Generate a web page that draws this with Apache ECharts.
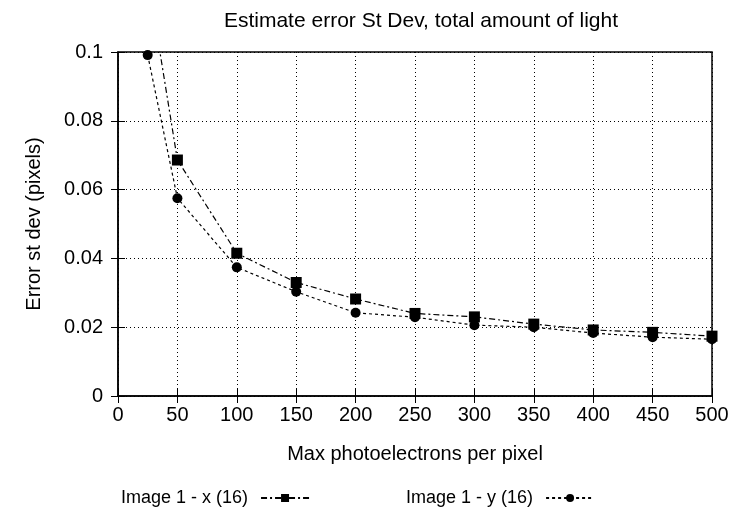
<!DOCTYPE html>
<html>
<head>
<meta charset="utf-8">
<script src="https://cdn.jsdelivr.net/npm/echarts@6/dist/echarts.min.js"></script>
<style>
  html, body { margin: 0; padding: 0; background: #fff; }
  #main { width: 738px; height: 507px; }
</style>
</head>
<body>
<div id="main"></div>
<script>
// 数据：横轴为每像素最大光电子数
const photons = [25, 50, 100, 150, 200, 250, 300, 350, 400, 450, 500];
const errX = [0.122, 0.0686, 0.0415, 0.0330, 0.0282, 0.0240, 0.0230, 0.0209, 0.0192, 0.0185, 0.0174];
const errY = [0.0991, 0.0575, 0.0374, 0.0303, 0.0242, 0.0229, 0.0206, 0.0200, 0.0183, 0.0171, 0.0165];
const seriesNames = ['Image 1 - x (16)', 'Image 1 - y (16)'];

const font = 'Liberation Sans, Arial, Helvetica, sans-serif';
const pairs = vals => photons.map((p, i) => [p, vals[i]]);

const chart = echarts.init(document.getElementById('main'));

// 上、右两条轴只画刻度（镜像）
const mirrorAxis = {
  axisLine: { show: false },
  axisLabel: { show: false },
  splitLine: { show: false },
  axisTick: { show: true, inside: true, length: 7, lineStyle: { color: '#000' } }
};

chart.setOption({
  animation: false,
  title: {
    text: 'Estimate error St Dev, total amount of light',
    left: 416,
    textAlign: 'center',
    top: 6,
    textStyle: { fontFamily: font, fontSize: 21, fontWeight: 'normal', color: '#000' }
  },
  legend: {
    top: 484,
    left: 116,
    align: 'right',
    itemWidth: 48,
    itemHeight: 10,
    itemGap: 96,
    textStyle: { fontFamily: font, fontSize: 18, color: '#000', padding: [0, 8, 0, 0] },
    data: seriesNames
  },
  grid: {
    left: 118, right: 26, top: 52, bottom: 111,
    show: true, borderColor: '#000', borderWidth: 1.5, backgroundColor: 'transparent'
  },
  xAxis: [{
    type: 'value',
    min: 0, max: 500, interval: 50,
    name: 'Max photoelectrons per pixel',
    nameLocation: 'middle',
    nameGap: 48,
    nameTextStyle: { fontFamily: font, fontSize: 20, color: '#000' },
    axisLine: { show: true, lineStyle: { color: '#000', width: 1.5 } },
    axisTick: { show: true, inside: true, length: 7, lineStyle: { color: '#000' } },
    axisLabel: { fontFamily: font, fontSize: 20, color: '#000', margin: 9 },
    splitLine: { show: true, lineStyle: { color: '#000', type: [1, 3], width: 1 } }
  }, Object.assign({ type: 'value', position: 'top', min: 0, max: 500, interval: 50 }, mirrorAxis)],
  yAxis: [{
    type: 'value',
    min: 0, max: 0.1, interval: 0.02,
    name: 'Error st dev (pixels)',
    nameLocation: 'middle',
    nameGap: 74,
    nameTextStyle: { fontFamily: font, fontSize: 20, color: '#000' },
    axisLine: { show: true, lineStyle: { color: '#000', width: 1.5 } },
    axisTick: { show: true, inside: true, length: 7, lineStyle: { color: '#000' } },
    axisLabel: { fontFamily: font, fontSize: 20, color: '#000', margin: 15 },
    splitLine: { show: true, lineStyle: { color: '#000', type: [1, 3], width: 1 } }
  }, Object.assign({ type: 'value', position: 'right', min: 0, max: 0.1, interval: 0.02 }, mirrorAxis)],
  series: [{
    name: seriesNames[0],
    type: 'line',
    data: pairs(errX),
    symbol: 'rect',
    symbolSize: 11,
    clip: true,
    itemStyle: { color: '#000' },
    lineStyle: { color: '#000', width: 1.2, type: [6, 3, 2, 3] }
  }, {
    name: seriesNames[1],
    type: 'line',
    data: pairs(errY),
    symbol: 'circle',
    symbolSize: 10,
    clip: true,
    itemStyle: { color: '#000' },
    lineStyle: { color: '#000', width: 1.2, type: [3, 3] }
  }]
});
</script>
</body>
</html>
